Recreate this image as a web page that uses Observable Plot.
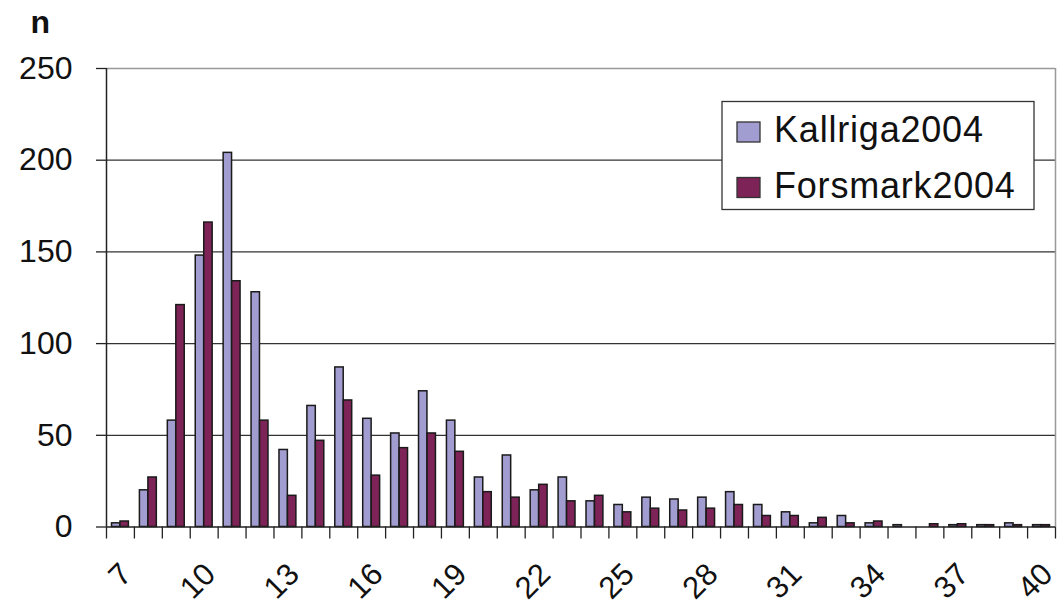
<!DOCTYPE html>
<html>
<head>
<meta charset="utf-8">
<script src="https://cdn.jsdelivr.net/npm/d3@7"></script>
<script src="https://cdn.jsdelivr.net/npm/@observablehq/plot@0.6"></script>
<style>
  html, body { margin: 0; padding: 0; background: #fff; }
  #chart { width: 1060px; height: 610px; }
</style>
</head>
<body>
<div id="chart"></div>
<script>
const categories = [7,8,9,10,11,12,13,14,15,16,17,18,19,20,21,22,23,24,25,26,27,28,29,30,31,32,33,34,35,36,37,38,39,40];
const kallriga2004 = [2,20,58,148,204,128,42,66,87,59,51,74,58,27,39,20,27,14,12,16,15,16,19,12,8,2,6,2,1,0,1,1,2,1];
const forsmark2004 = [3,27,121,166,134,58,17,47,69,28,43,51,41,19,16,23,14,17,8,10,9,10,12,6,6,5,2,3,0,1.5,1.5,1,1,1];
const xTickLabels = [7,10,13,16,19,22,25,28,31,34,37,40];
const yTicks = [0,50,100,150,200,250];
const seriesNames = ["Kallriga2004","Forsmark2004"];
const seriesColors = ["#a29dd0","#7e2357"];

const rows = categories.map((c, i) => ({c, k: kallriga2004[i], f: forsmark2004[i]}));
const boundaries = categories.map(c => c - 0.5).concat([categories[categories.length-1] + 0.5]);

const font = "'Liberation Sans', Arial, sans-serif";

const chart = Plot.plot({
  width: 1060,
  height: 610,
  marginLeft: 106,
  marginRight: 5,
  marginTop: 68,
  marginBottom: 83.5,
  style: {fontFamily: font, fontSize: "32px", color: "#111", background: "#fff", overflow: "visible"},
  x: {domain: [boundaries[0], boundaries[boundaries.length-1]], axis: null},
  y: {domain: [0, 250], axis: null},
  marks: [
    Plot.gridY(yTicks.slice(1, -1), {stroke: "#333", strokeOpacity: 1, strokeWidth: 1.2}),
    Plot.ruleY([250], {stroke: "#999", strokeWidth: 1.5}),
    Plot.ruleX([boundaries[boundaries.length-1]], {stroke: "#999", strokeWidth: 1.5}),
    Plot.rectY(rows, {x1: d => d.c - 0.5, x2: d => d.c + 0.5, y: "k", fill: seriesColors[0], stroke: "#1a1a1a", strokeWidth: 1.5, insetLeft: 5.5, insetRight: 14}),
    Plot.rectY(rows, {x1: d => d.c - 0.5, x2: d => d.c + 0.5, y: "f", fill: seriesColors[1], stroke: "#1a1a1a", strokeWidth: 1.5, insetLeft: 14, insetRight: 5.5}),
    Plot.ruleY([0], {stroke: "#222", strokeWidth: 1.5}),
    Plot.ruleX([boundaries[0]], {stroke: "#222", strokeWidth: 1.5}),
    Plot.axisY({ticks: yTicks, tickSize: 10, tickPadding: 24, fontSize: 32, stroke: "#222", strokeWidth: 1.3, label: null, tickFormat: d => d, style: {letterSpacing: "2px"}}),
    Plot.axisX({ticks: boundaries, tickSize: 12, tickFormat: () => "", stroke: "#222", strokeWidth: 1.3, label: null}),
    Plot.text(xTickLabels, {x: d => d, frameAnchor: "bottom", dx: 13, dy: 49, rotate: -45, textAnchor: "end", lineAnchor: "bottom", fontSize: 31, fill: "#111"}),
    Plot.text(["n"], {frameAnchor: "top-left", dx: -76, dy: -36, textAnchor: "start", lineAnchor: "bottom", fontSize: 32, fontWeight: "bold", fill: "#111"})
  ]
});

document.getElementById("chart").appendChild(chart);

// Legend drawn inside the SVG
const svg = d3.select(chart);
const lg = svg.append("g").attr("font-family", font).attr("text-anchor", "start");
lg.append("rect").attr("x", 722).attr("y", 101.5).attr("width", 312).attr("height", 108)
  .attr("fill", "#fff").attr("stroke", "#333").attr("stroke-width", 1.3);
seriesNames.forEach((name, i) => {
  const y0 = 122 + i * 55.5;
  lg.append("rect").attr("x", 737).attr("y", y0).attr("width", 23).attr("height", 20)
    .attr("fill", seriesColors[i]).attr("stroke", "#333").attr("stroke-width", 1.3);
  lg.append("text").attr("x", 774).attr("y", y0 + 20).attr("font-size", 36)
    .attr("text-anchor", "start").attr("letter-spacing", "0.8px").attr("fill", "#111").text(name);
});
</script>
</body>
</html>
